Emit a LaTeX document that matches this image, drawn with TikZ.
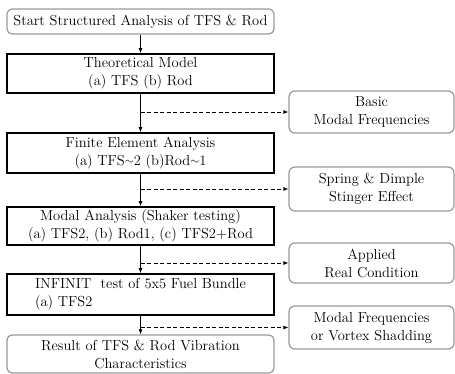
\documentclass[tikz,border=0pt]{standalone}
\usetikzlibrary{arrows.meta}
\newcommand{\midtilde}{\raisebox{0.15ex}{\scalebox{0.8}{$\sim$}}}
\begin{document}
\begin{tikzpicture}[x=1pt,y=-1pt,
  every node/.style={font=\fontsize{14.5}{18}\selectfont, inner sep=0pt, align=center},
  mainbox/.style={draw=black, line width=1.6pt, minimum width=267pt},
  endbox/.style={draw=gray!80, line width=1.2pt, rounded corners=5pt, minimum width=267pt},
  sidebox/.style={draw=gray!80, line width=1.2pt, rounded corners=6pt, minimum width=165pt},
  flow/.style={line width=0.9pt, -{Latex[length=5pt,width=4pt]}},
  branch/.style={line width=0.9pt, dashed, dash pattern=on 4pt off 2.5pt, -{Latex[length=5pt,width=4pt]}}
]
\useasboundingbox (0,0) rectangle (455,374);
\node[endbox, minimum height=25pt] (start) at (140.5,21.5) {Start Structured Analysis of TFS \& Rod};
\node[mainbox, minimum height=39pt] (theo) at (140.5,73.5) {Theoretical Model\\(a) TFS (b) Rod};
\node[mainbox, minimum height=40pt] (fea) at (140.5,153) {Finite Element Analysis\\(a) TFS\midtilde2 (b)Rod\midtilde1};
\node[mainbox, minimum height=38pt] (modal) at (140.5,226) {Modal Analysis (Shaker testing)\\(a) TFS2, (b) Rod1, (c) TFS2+Rod};
\node[mainbox, minimum height=41pt, align=left] (inf) at (140.5,294.5) {INFINIT\ \ test of 5x5 Fuel Bundle\\(a) TFS2};
\node[endbox, minimum height=38pt] (res) at (140.5,354) {Result of TFS \& Rod Vibration\\Characteristics};

\node[sidebox, minimum height=42pt] (basic) at (371.5,112) {Basic\\Modal Frequencies};
\node[sidebox, minimum height=44pt] (spring) at (371.5,189) {Spring \& Dimple\\Stinger Effect};
\node[sidebox, minimum height=40pt] (applied) at (371.5,263) {Applied\\Real Condition};
\node[sidebox, minimum height=43pt] (mfreq) at (371.5,327.5) {Modal Frequencies\\or Vortex Shadding};

\draw[flow] (start) -- (theo);
\draw[flow] (theo) -- (fea);
\draw[flow] (fea) -- (modal);
\draw[flow] (modal) -- (inf);
\draw[flow] (inf) -- (res);

\draw[branch] (basic.west -| theo.south) -- (basic.west);
\draw[branch] (spring.west -| fea.south) -- (spring.west);
\draw[branch] (applied.west -| modal.south) -- (applied.west);
\draw[branch] (mfreq.west -| inf.south) -- (mfreq.west);
\end{tikzpicture}
\end{document}
